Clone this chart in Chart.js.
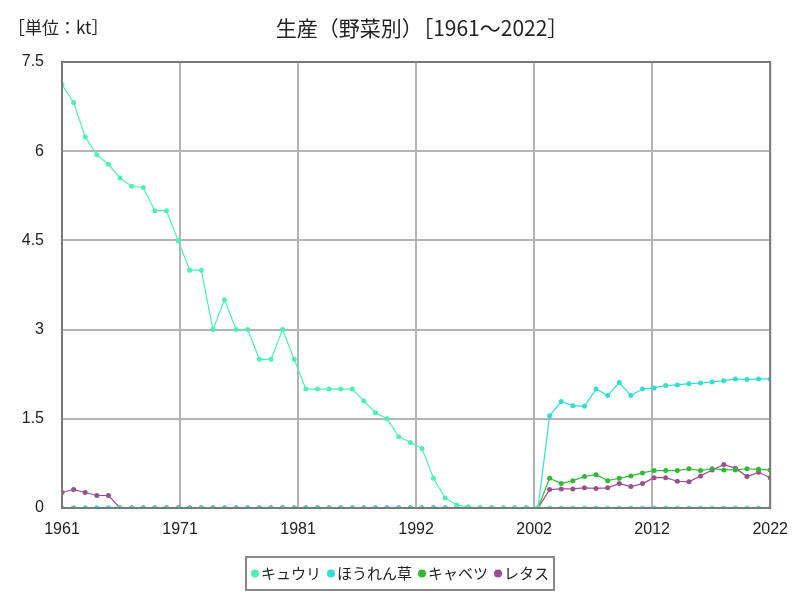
<!DOCTYPE html>
<html>
<head>
<meta charset="utf-8">
<script src="https://cdn.jsdelivr.net/npm/chart.js@4"></script>
<style>
  html, body { margin: 0; padding: 0; background: #fff; }
  #wrap { width: 800px; height: 600px; }
</style>
</head>
<body>
<div id="wrap"><canvas id="vegChart" width="800" height="600"></canvas></div>
<script>

// data (kt)
var years = [];
for (var y = 1961; y <= 2022; y++) years.push(y);

var cucumber = [
    7.12, 6.82, 6.24, 5.94, 5.78, 5.55, 5.41, 5.39, 5.0, 5.0,
    4.5, 4.0, 4.0, 3.0, 3.5, 3.0, 3.0, 2.5, 2.5, 3.0,
    2.5, 2.0, 2.0, 2.0, 2.0, 2.0, 1.8, 1.6, 1.5, 1.2,
    1.1, 1.0, 0.5, 0.17, 0.05, 0.02, 0, 0, 0, 0,
    0, 0, 0, 0, 0, 0, 0, 0, 0, 0,
    0, 0, 0, 0, 0, 0, 0, 0, 0, 0,
    0, 0
];

var spinach = [
    0, 0, 0, 0, 0, 0, 0, 0, 0, 0,
    0, 0, 0, 0, 0, 0, 0, 0, 0, 0,
    0, 0, 0, 0, 0, 0, 0, 0, 0, 0,
    0, 0, 0, 0, 0, 0, 0, 0, 0, 0,
    0, 0,
    1.55, 1.79, 1.72, 1.71, 2.0, 1.89, 2.11, 1.89, 2.0, 2.02,
    2.06, 2.07, 2.09, 2.10, 2.12, 2.14, 2.17, 2.16, 2.17, 2.17
];

var cabbage = [
    0, 0, 0, 0, 0, 0, 0, 0, 0, 0,
    0, 0, 0, 0, 0, 0, 0, 0, 0, 0,
    0, 0, 0, 0, 0, 0, 0, 0, 0, 0,
    0, 0, 0, 0, 0, 0, 0, 0, 0, 0,
    0, 0,
    0.50, 0.41, 0.46, 0.53, 0.56, 0.46, 0.50, 0.54, 0.59, 0.63,
    0.63, 0.63, 0.66, 0.63, 0.66, 0.64, 0.64, 0.66, 0.65, 0.64
];

var lettuce = [
    0.26, 0.31, 0.26, 0.21, 0.21, 0, 0, 0, 0, 0,
    0, 0, 0, 0, 0, 0, 0, 0, 0, 0,
    0, 0, 0, 0, 0, 0, 0, 0, 0, 0,
    0, 0, 0, 0, 0, 0, 0, 0, 0, 0,
    0, 0,
    0.31, 0.32, 0.32, 0.34, 0.33, 0.34, 0.41, 0.36, 0.41, 0.51,
    0.51, 0.45, 0.44, 0.54, 0.64, 0.73, 0.67, 0.53, 0.60, 0.51
];

var seriesNames = ["キュウリ", "ほうれん草", "キャベツ", "レタス"];
var seriesColors = ["#4ef0b4", "#34dcd4", "#33b833", "#9a5090"];
var yTicks = [0, 1.5, 3, 4.5, 6, 7.5];

var titleText = "生産（野菜別）［1961～2022］";
var unitText = "［単位：kt］";

var jpFont = "'Noto Sans CJK JP', 'Noto Sans', sans-serif";
var numFont = "'Liberation Sans', Arial, sans-serif";


function toPoints(arr) {
    return arr.map(function (v, i) { return { x: years[i], y: v }; });
}


// frame, title, unit and boxed legend
var decorPlugin = {
    id: "decor",
    afterDraw: function (chart) {
        var ctx = chart.ctx;
        var a = chart.chartArea;

        ctx.save();
        ctx.strokeStyle = "#7a7a7a";
        ctx.lineWidth = 2;
        ctx.strokeRect(a.left, a.top, a.right - a.left, a.bottom - a.top);

        ctx.fillStyle = "#222";
        ctx.textBaseline = "middle";
        ctx.font = "21px " + jpFont;
        ctx.textAlign = "center";
        ctx.fillText(titleText, 422, 28);

        ctx.font = "17px " + jpFont;
        ctx.textAlign = "left";
        ctx.fillText(unitText, 8, 28);

        // legend
        ctx.font = "15px " + jpFont;
        var items = chart.data.datasets;
        var gap = 6, dotW = 10, widths = [], total = 0;
        items.forEach(function (ds) {
            var w = dotW + ctx.measureText(ds.label).width;
            widths.push(w);
            total += w;
        });
        total += gap * (items.length - 1);
        var padX = 5;
        var boxW = total + padX * 2;
        var boxL = 400 - boxW / 2;
        var boxT = 557, boxH = 33;
        ctx.strokeStyle = "#888";
        ctx.lineWidth = 2;
        ctx.strokeRect(boxL, boxT, boxW, boxH);

        var x = boxL + padX;
        var cy = boxT + boxH / 2;
        items.forEach(function (ds, i) {
            ctx.fillStyle = ds.borderColor;
            ctx.beginPath();
            ctx.arc(x + 4, cy, 4, 0, Math.PI * 2);
            ctx.fill();
            ctx.fillStyle = "#222";
            ctx.fillText(ds.label, x + dotW, cy);
            x += widths[i] + gap;
        });
        ctx.restore();
    }
};


function makeDataset(i, arr) {
    return {
        label: seriesNames[i],
        data: toPoints(arr),
        borderColor: seriesColors[i],
        backgroundColor: seriesColors[i],
        borderWidth: 1.2,
        pointRadius: 2.5,
        pointHoverRadius: 3,
        pointBorderWidth: 0,
        tension: 0
    };
}


new Chart(
    document.getElementById("vegChart"),
    {
        type: "line",
        data: {
            datasets: [
                makeDataset(0, cucumber),
                makeDataset(1, spinach),
                makeDataset(2, cabbage),
                makeDataset(3, lettuce)
            ]
        },
        options: {
            responsive: false,
            animation: false,
            layout: {
                padding: { top: 62, right: 24, left: 0, bottom: 54 }
            },
            plugins: {
                legend: { display: false },
                title: { display: false },
                tooltip: { enabled: false }
            },
            scales: {
                x: {
                    type: "linear",
                    min: 1961,
                    max: 2022,
                    afterBuildTicks: function (scale) {
                        var t = [];
                        for (var i = 0; i <= 6; i++) t.push({ value: 1961 + i * 61 / 6 });
                        scale.ticks = t;
                    },
                    afterFit: function (scale) { scale.height = 38; },
                    grid: {
                        color: "#b4b4b4",
                        lineWidth: 2,
                        drawTicks: false
                    },
                    border: { display: false },
                    ticks: {
                        padding: 12,
                        color: "#222",
                        font: { family: numFont, size: 16 },
                        maxRotation: 0,
                        callback: function (v) { return String(Math.round(v)); }
                    }
                },
                y: {
                    min: 0,
                    max: 7.5,
                    afterBuildTicks: function (scale) {
                        scale.ticks = yTicks.map(function (v) { return { value: v }; });
                    },
                    afterFit: function (scale) { scale.width = 62; },
                    grid: {
                        color: "#b4b4b4",
                        lineWidth: 2,
                        drawTicks: false
                    },
                    border: { display: false },
                    ticks: {
                        padding: 18,
                        color: "#222",
                        font: { family: numFont, size: 16 },
                        callback: function (v) { return String(v); }
                    }
                }
            }
        },
        plugins: [decorPlugin]
    }
);

</script>
</body>
</html>
